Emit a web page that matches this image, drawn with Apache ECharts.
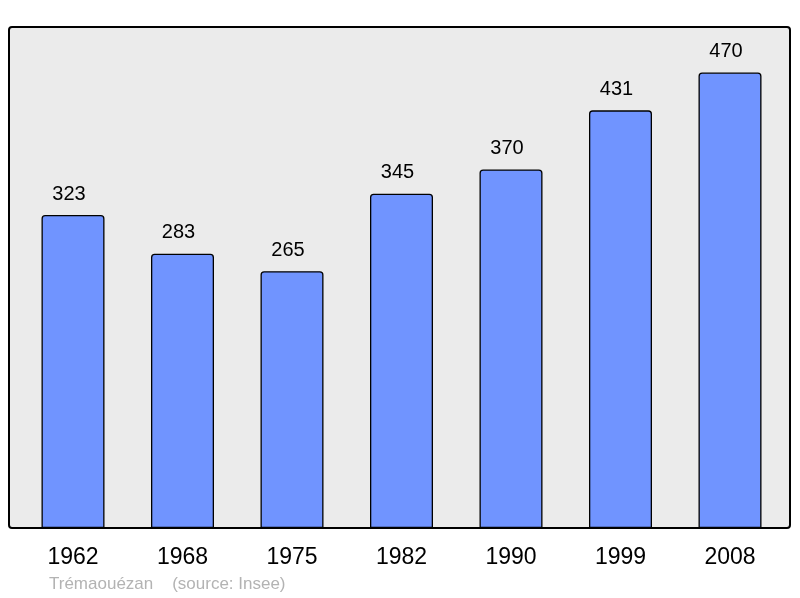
<!DOCTYPE html>
<html><head><meta charset="utf-8">
<script src="https://cdn.jsdelivr.net/npm/echarts@6/dist/echarts.min.js"></script>
<style>html,body{margin:0;padding:0;background:#fff;}#c{width:800px;height:598px;}</style>
</head><body><div id="c"></div>
<script>
const years = ['1962','1968','1975','1982','1990','1999','2008'];
const population = [323, 283, 265, 345, 370, 431, 470];
const caption = 'Trémaouézan    (source: Insee)';

const chart = echarts.init(document.getElementById('c'), null, {renderer:'canvas'});
const maxVal = Math.max(...population) * 1.1;
chart.setOption({
  animation: false,
  textStyle: {fontFamily: 'Liberation Sans, Arial, sans-serif'},
  graphic: [{
    type: 'rect', z: -1,
    shape: {x: 9, y: 27, width: 781, height: 501, r: 3},
    style: {fill: '#ebebeb', stroke: '#000', lineWidth: 2}
  }],
  title: {
    text: caption, left: 49, top: 576, padding: 0,
    textStyle: {color: '#b3b3b3', fontSize: 17, fontWeight: 'normal', fontFamily: 'Liberation Sans, Arial, sans-serif'}
  },
  grid: {left: 18.25, right: 15.25, top: 27, bottom: 70},
  xAxis: {
    type: 'category', data: years,
    axisLine: {show: false}, axisTick: {show: false},
    axisLabel: {color: '#000', fontSize: 23, margin: 18}
  },
  yAxis: {
    type: 'value', min: 0, max: maxVal, show: false,
    splitLine: {show: false}
  },
  series: [{
    type: 'bar', data: population, barWidth: 63,
    itemStyle: {color: '#7094ff', borderColor: '#000', borderWidth: 1.3, borderRadius: [3,3,0,0]},
    label: {show: true, position: 'top', distance: 11, offset: [-4, 0], color: '#000', fontSize: 20}
  }]
});
</script></body></html>
